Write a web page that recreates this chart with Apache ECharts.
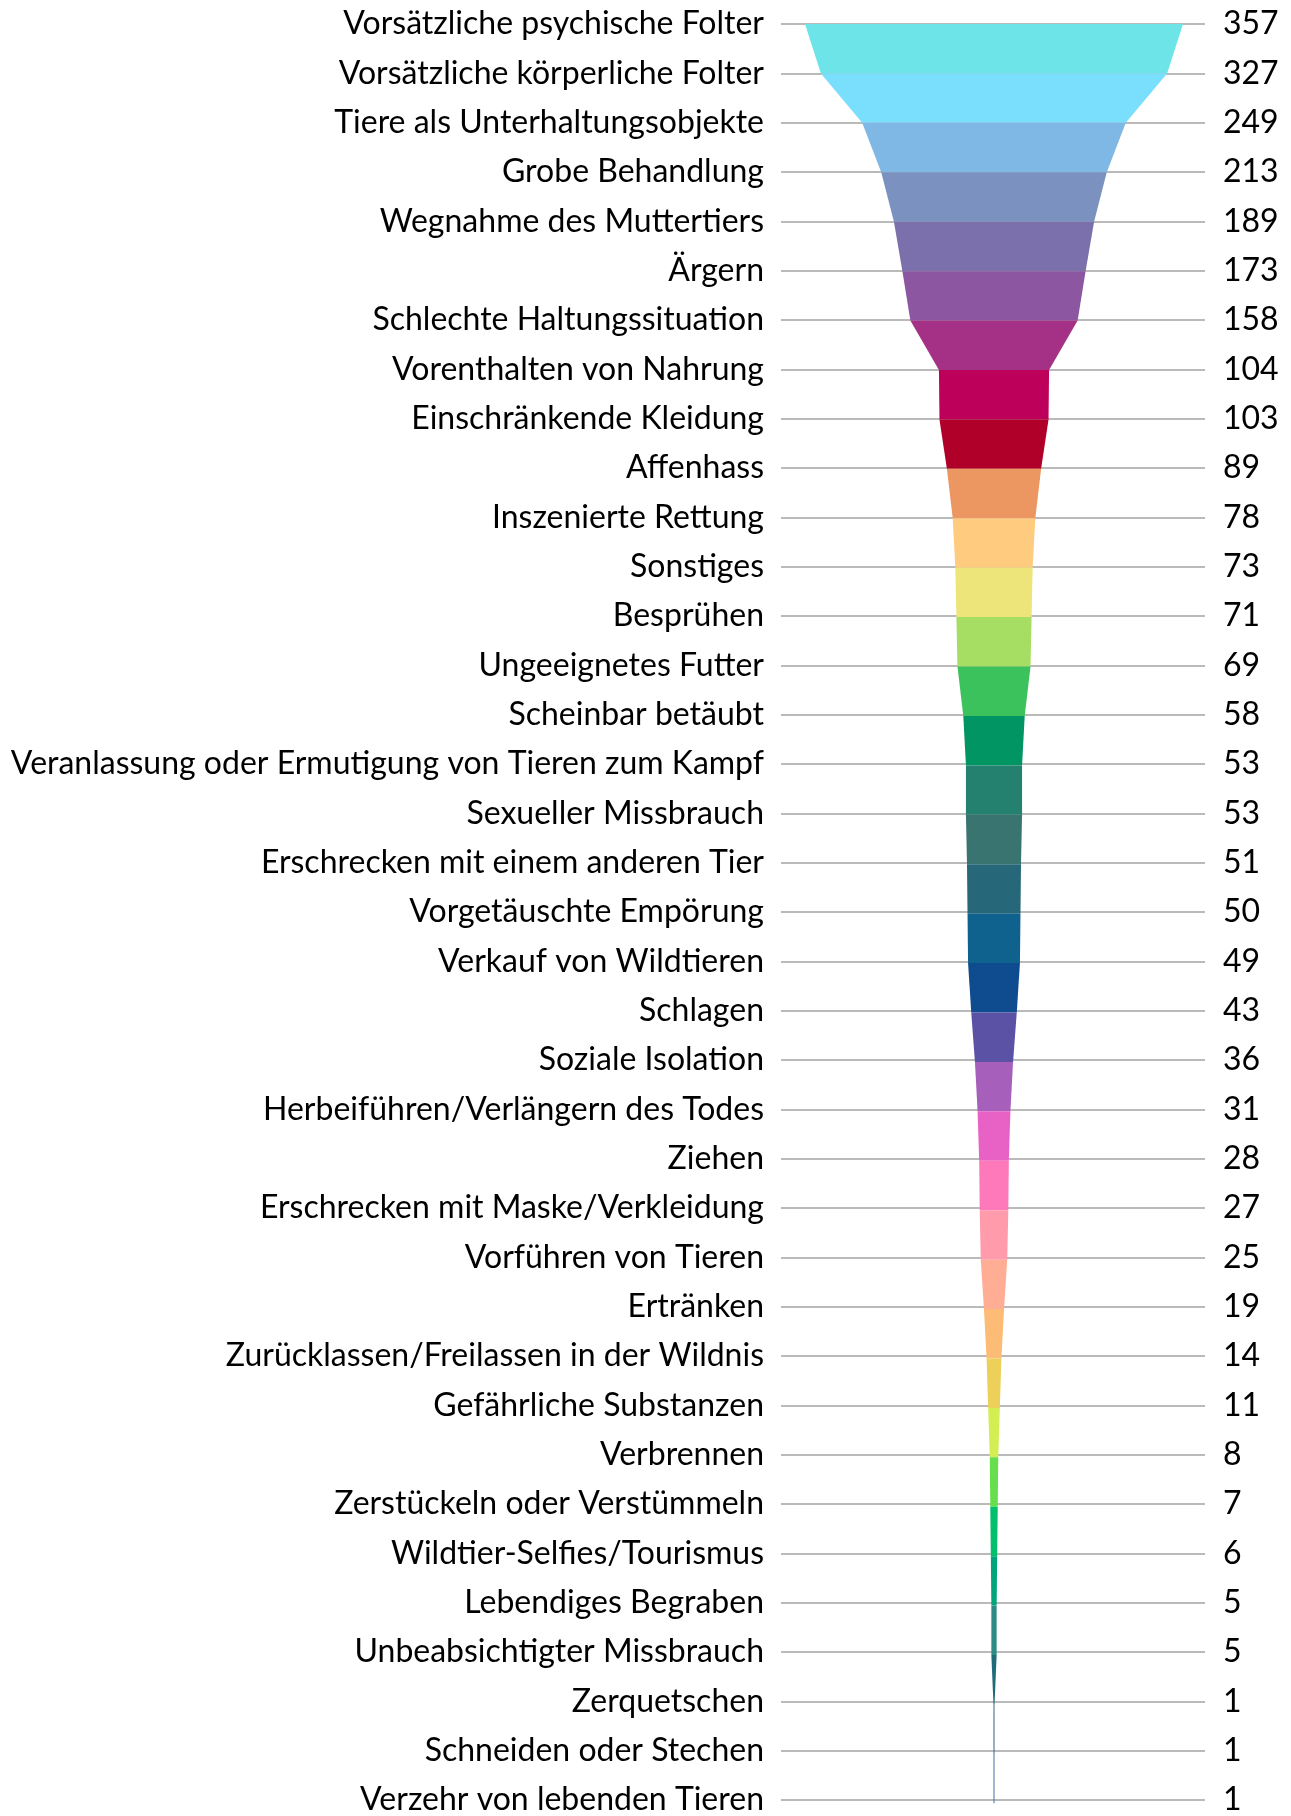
<!DOCTYPE html>
<html>
<head>
<meta charset="utf-8">
<script src="https://cdn.jsdelivr.net/npm/echarts@6/dist/echarts.min.js"></script>
<style>
html,body{margin:0;padding:0;background:#fff;}
#chart{width:1291px;height:1816px;}
</style>
</head>
<body>
<div id="chart"></div>
<script>
const categories = [
  "Vorsätzliche psychische Folter",
  "Vorsätzliche körperliche Folter",
  "Tiere als Unterhaltungsobjekte",
  "Grobe Behandlung",
  "Wegnahme des Muttertiers",
  "Ärgern",
  "Schlechte Haltungssituation",
  "Vorenthalten von Nahrung",
  "Einschränkende Kleidung",
  "Affenhass",
  "Inszenierte Rettung",
  "Sonstiges",
  "Besprühen",
  "Ungeeignetes Futter",
  "Scheinbar betäubt",
  "Veranlassung oder Ermutigung von Tieren zum Kampf",
  "Sexueller Missbrauch",
  "Erschrecken mit einem anderen Tier",
  "Vorgetäuschte Empörung",
  "Verkauf von Wildtieren",
  "Schlagen",
  "Soziale Isolation",
  "Herbeiführen/Verlängern des Todes",
  "Ziehen",
  "Erschrecken mit Maske/Verkleidung",
  "Vorführen von Tieren",
  "Ertränken",
  "Zurücklassen/Freilassen in der Wildnis",
  "Gefährliche Substanzen",
  "Verbrennen",
  "Zerstückeln oder Verstümmeln",
  "Wildtier-Selfies/Tourismus",
  "Lebendiges Begraben",
  "Unbeabsichtigter Missbrauch",
  "Zerquetschen",
  "Schneiden oder Stechen",
  "Verzehr von lebenden Tieren"
];
const values = [357,327,249,213,189,173,158,104,103,89,78,73,71,69,58,53,53,51,50,49,43,36,31,28,27,25,19,14,11,8,7,6,5,5,1,1,1];
const colors = [
  "#6ce4e8","#7adffd","#80b8e5","#7b92c0","#7b70ab","#8c56a1","#a43185","#bd0059","#b0002a","#ec9661",
  "#fecb7f","#ede57a","#a6dd63","#3cc25d","#009563","#24806f","#3a7470","#26677a","#0f628d","#0e4c8f",
  "#5b52a6","#a65fba","#e862c6","#fd79b9","#ff9bab","#ffad95","#fdbc75","#edd05a","#d3ee52","#67de4c",
  "#00c06c","#00a57b","#2c8b84","#1f6b7a","#3a6f85","#4b7aa6","#4b7aa6"
];

const rowH = (1803.3 - 24) / (categories.length - 1);
const chart = echarts.init(document.getElementById('chart'), null, {renderer: 'canvas'});
const fontCfg = {fontFamily: 'Lato', fontSize: 32, color: '#000', padding: [4, 0, 0, 0]};

chart.setOption({
  animation: false,
  backgroundColor: '#fff',
  grid: {left: 781, right: 86, top: 24, height: 1803.3 - 24, containLabel: false},
  xAxis: {type: 'value', min: 0, max: 1, show: false},
  yAxis: [
    {
      type: 'category', data: categories, inverse: true, boundaryGap: false, position: 'left',
      axisLine: {show: false}, axisTick: {show: false, interval: 0},
      axisLabel: Object.assign({interval: 0, margin: 17}, fontCfg),
      splitLine: {show: true, interval: 0, lineStyle: {color: '#bababa', width: 2}}
    },
    {
      type: 'category', data: values.map(String), inverse: true, boundaryGap: false, position: 'right',
      axisLine: {show: false}, axisTick: {show: false, interval: 0},
      axisLabel: Object.assign({interval: 0, margin: 18, align: 'left'}, fontCfg),
      splitLine: {show: false}
    }
  ],
  series: [{
    type: 'funnel',
    sort: 'none',
    gap: 0,
    min: 0,
    max: 357,
    minSize: '0%',
    maxSize: '100%',
    left: 805,
    width: 378,
    top: 24,
    height: rowH * categories.length,
    label: {show: false},
    labelLine: {show: false},
    emphasis: {disabled: true},
    itemStyle: {borderWidth: 0},
    z: 5,
    data: categories.map((c, i) => ({
      name: c, value: values[i],
      itemStyle: {color: colors[i], opacity: i === categories.length - 1 ? 0 : 1}
    }))
  }]
});
</script>
</body>
</html>
